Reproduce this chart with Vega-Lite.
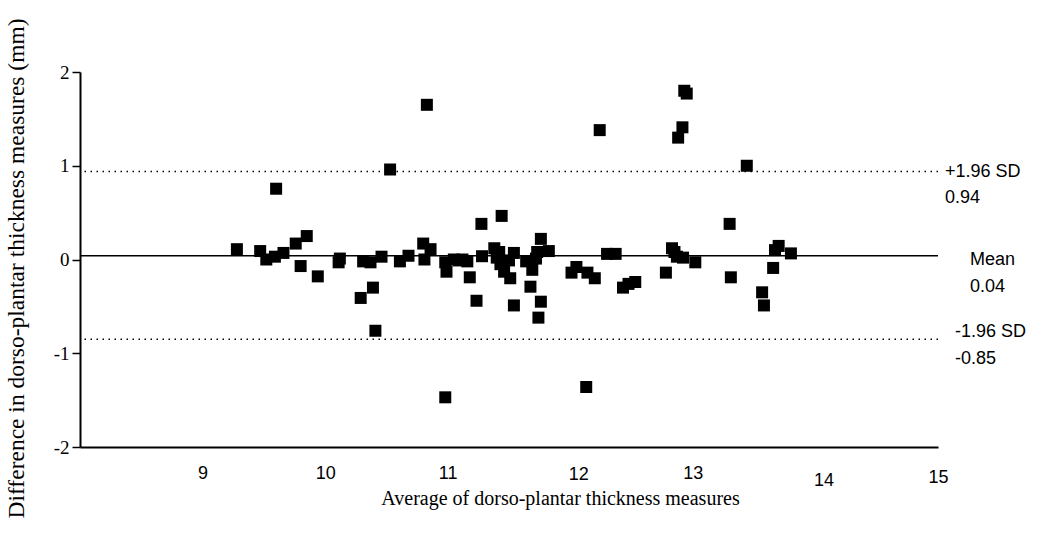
{
  "$schema": "https://vega.github.io/schema/vega-lite/v6.json",
  "width": 858,
  "height": 375,
  "autosize": {"type": "none"},
  "padding": {"left": 80, "top": 72, "right": 108, "bottom": 104},
  "background": "white",
  "config": {"view": {"stroke": null}},
  "datasets": {
    "points": [
      {"avg": 9.28, "diff": 0.11}, {"avg": 9.47, "diff": 0.09}, {"avg": 9.52, "diff": 0.0},
      {"avg": 9.59, "diff": 0.03}, {"avg": 9.66, "diff": 0.07}, {"avg": 9.6, "diff": 0.755},
      {"avg": 9.76, "diff": 0.17}, {"avg": 9.85, "diff": 0.25}, {"avg": 9.8, "diff": -0.07},
      {"avg": 9.94, "diff": -0.18}, {"avg": 10.12, "diff": 0.01}, {"avg": 10.11, "diff": -0.03},
      {"avg": 10.31, "diff": -0.02}, {"avg": 10.37, "diff": -0.03}, {"avg": 10.46, "diff": 0.03},
      {"avg": 10.29, "diff": -0.41}, {"avg": 10.39, "diff": -0.3}, {"avg": 10.41, "diff": -0.76},
      {"avg": 10.53, "diff": 0.96}, {"avg": 10.61, "diff": -0.02}, {"avg": 10.68, "diff": 0.04},
      {"avg": 10.8, "diff": 0.17}, {"avg": 10.86, "diff": 0.11}, {"avg": 10.81, "diff": 0.0},
      {"avg": 10.83, "diff": 1.65}, {"avg": 10.98, "diff": -0.03}, {"avg": 10.99, "diff": -0.13},
      {"avg": 10.98, "diff": -1.47}, {"avg": 11.05, "diff": 0.0}, {"avg": 11.09, "diff": -0.01},
      {"avg": 11.12, "diff": 0.0}, {"avg": 11.16, "diff": -0.02}, {"avg": 11.18, "diff": -0.19},
      {"avg": 11.235, "diff": -0.44}, {"avg": 11.275, "diff": 0.38}, {"avg": 11.28, "diff": 0.035},
      {"avg": 11.44, "diff": 0.465}, {"avg": 11.38, "diff": 0.12}, {"avg": 11.42, "diff": 0.08},
      {"avg": 11.4, "diff": 0.02}, {"avg": 11.43, "diff": -0.05}, {"avg": 11.46, "diff": -0.13},
      {"avg": 11.51, "diff": -0.2}, {"avg": 11.54, "diff": 0.07}, {"avg": 11.5, "diff": -0.01},
      {"avg": 11.54, "diff": -0.49}, {"avg": 11.64, "diff": -0.02}, {"avg": 11.69, "diff": -0.11},
      {"avg": 11.675, "diff": -0.29}, {"avg": 11.76, "diff": 0.22}, {"avg": 11.73, "diff": 0.08},
      {"avg": 11.72, "diff": 0.01}, {"avg": 11.76, "diff": -0.45}, {"avg": 11.74, "diff": -0.62},
      {"avg": 11.825, "diff": 0.09}, {"avg": 12.05, "diff": -0.08}, {"avg": 12.01, "diff": -0.14},
      {"avg": 12.14, "diff": -0.14}, {"avg": 12.2, "diff": -0.2}, {"avg": 12.24, "diff": 1.38},
      {"avg": 12.13, "diff": -1.36}, {"avg": 12.3, "diff": 0.06}, {"avg": 12.37, "diff": 0.06},
      {"avg": 12.43, "diff": -0.3}, {"avg": 12.475, "diff": -0.26}, {"avg": 12.53, "diff": -0.24},
      {"avg": 12.78, "diff": -0.14}, {"avg": 12.83, "diff": 0.12}, {"avg": 12.85, "diff": 0.08},
      {"avg": 12.87, "diff": 0.03}, {"avg": 12.92, "diff": 0.02}, {"avg": 12.88, "diff": 1.3},
      {"avg": 12.915, "diff": 1.41}, {"avg": 12.93, "diff": 1.8}, {"avg": 12.95, "diff": 1.77},
      {"avg": 13.02, "diff": -0.03}, {"avg": 13.44, "diff": 1.0}, {"avg": 13.3, "diff": 0.38},
      {"avg": 13.31, "diff": -0.19}, {"avg": 13.565, "diff": -0.35}, {"avg": 13.58, "diff": -0.49},
      {"avg": 13.655, "diff": -0.09}, {"avg": 13.67, "diff": 0.1}, {"avg": 13.7, "diff": 0.145},
      {"avg": 13.8, "diff": 0.065}
    ],
    "lines": [
      {"label": "+1.96 SD", "value": 0.94, "shown": "0.94", "kind": "limit"},
      {"label": "Mean", "value": 0.04, "shown": "0.04", "kind": "mean"},
      {"label": "-1.96 SD", "value": -0.85, "shown": "-0.85", "kind": "limit"}
    ]
  },
  "layer": [
    {
      "data": {"name": "points"},
      "mark": {"type": "point", "shape": "square", "filled": true, "size": 144, "color": "black", "opacity": 1},
      "encoding": {
        "x": {
          "field": "avg", "type": "quantitative",
          "scale": {"domain": [8, 15], "nice": false, "zero": false},
          "axis": {
            "title": "Average of dorso-plantar thickness measures",
            "titleFont": "Liberation Serif", "titleFontSize": 20, "titleFontWeight": "normal", "titleColor": "black",
            "titleX": 480, "titleY": 51, "titleAlign": "center", "titleBaseline": "middle", "titleAnchor": null,
            "values": [9, 10, 11, 12, 13, 14, 15],
            "format": "d",
            "grid": false, "ticks": false, "tickSize": 0,
            "domainColor": "black", "domainWidth": 2,
            "labelFont": "Liberation Sans", "labelFontSize": 18, "labelColor": "black",
            "labelBaseline": "top", "labelFlush": false, "labelOverlap": false,
            "labelOffset": {"expr": "datum.value == 12 || datum.value == 14 ? 8 : 0"},
            "labelPadding": {"expr": "datum.value == 14 ? 24 : datum.value == 15 ? 21 : datum.value == 12 ? 18 : 17"}
          }
        },
        "y": {
          "field": "diff", "type": "quantitative",
          "scale": {"domain": [-2, 2], "nice": false, "zero": false},
          "axis": {
            "title": "Difference in dorso-plantar thickness measures (mm)",
            "titleFont": "Liberation Serif", "titleFontSize": 23.5, "titleFontWeight": "normal", "titleColor": "black",
            "titleX": -64, "titleY": 196, "titleAlign": "center", "titleBaseline": "middle", "titleAngle": -90, "titleAnchor": null,
            "values": [-2, -1, 0, 1, 2],
            "labelExpr": "'' + datum.value",
            "grid": false, "ticks": true, "tickSize": 8, "tickWidth": 1.5, "tickColor": "black",
            "domainColor": "black", "domainWidth": 2,
            "labelFont": "Liberation Serif", "labelFontSize": 19, "labelColor": "black",
            "labelPadding": 3, "labelFlush": false, "labelOverlap": false
          }
        }
      }
    },
    {
      "data": {"name": "lines"},
      "transform": [{"filter": "datum.kind == 'limit'"}],
      "mark": {"type": "rule", "color": "black", "strokeWidth": 1.5, "strokeDash": [1.5, 4.5]},
      "encoding": {"y": {"field": "value", "type": "quantitative"}}
    },
    {
      "data": {"name": "lines"},
      "transform": [{"filter": "datum.kind == 'mean'"}],
      "mark": {"type": "rule", "color": "black", "strokeWidth": 1.6},
      "encoding": {"y": {"field": "value", "type": "quantitative"}}
    },
    {
      "data": {"name": "lines"},
      "transform": [{"filter": "datum.label == '+1.96 SD'"}],
      "mark": {"type": "text", "align": "left", "baseline": "middle", "dx": 7, "dy": 1, "font": "Liberation Sans", "fontSize": 18, "color": "black"},
      "encoding": {"x": {"datum": 15}, "y": {"field": "value", "type": "quantitative"}, "text": {"field": "label"}}
    },
    {
      "data": {"name": "lines"},
      "transform": [{"filter": "datum.label == '+1.96 SD'"}],
      "mark": {"type": "text", "align": "left", "baseline": "middle", "dx": 7, "dy": 27, "font": "Liberation Sans", "fontSize": 18, "color": "black"},
      "encoding": {"x": {"datum": 15}, "y": {"field": "value", "type": "quantitative"}, "text": {"field": "shown"}}
    },
    {
      "data": {"name": "lines"},
      "transform": [{"filter": "datum.label == 'Mean'"}],
      "mark": {"type": "text", "align": "left", "baseline": "middle", "dx": 32, "dy": 4, "font": "Liberation Sans", "fontSize": 18, "color": "black"},
      "encoding": {"x": {"datum": 15}, "y": {"field": "value", "type": "quantitative"}, "text": {"field": "label"}}
    },
    {
      "data": {"name": "lines"},
      "transform": [{"filter": "datum.label == 'Mean'"}],
      "mark": {"type": "text", "align": "left", "baseline": "middle", "dx": 32, "dy": 31, "font": "Liberation Sans", "fontSize": 18, "color": "black"},
      "encoding": {"x": {"datum": 15}, "y": {"field": "value", "type": "quantitative"}, "text": {"field": "shown"}}
    },
    {
      "data": {"name": "lines"},
      "transform": [{"filter": "datum.label == '-1.96 SD'"}],
      "mark": {"type": "text", "align": "left", "baseline": "middle", "dx": 17, "dy": -7, "font": "Liberation Sans", "fontSize": 18, "color": "black"},
      "encoding": {"x": {"datum": 15}, "y": {"field": "value", "type": "quantitative"}, "text": {"field": "label"}}
    },
    {
      "data": {"name": "lines"},
      "transform": [{"filter": "datum.label == '-1.96 SD'"}],
      "mark": {"type": "text", "align": "left", "baseline": "middle", "dx": 17, "dy": 20, "font": "Liberation Sans", "fontSize": 18, "color": "black"},
      "encoding": {"x": {"datum": 15}, "y": {"field": "value", "type": "quantitative"}, "text": {"field": "shown"}}
    }
  ]
}
